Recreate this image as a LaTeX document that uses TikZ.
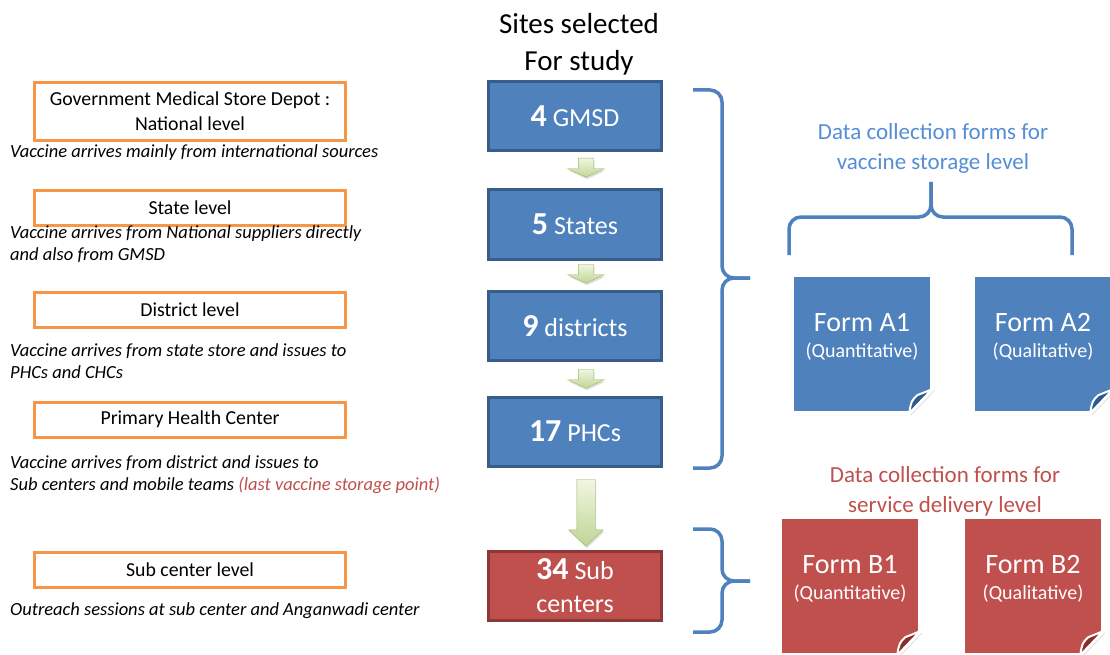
\documentclass[tikz,border=0pt]{standalone}
\usepackage{fontspec}
\setmainfont{Carlito}
\usetikzlibrary{shapes.arrows,shadows,backgrounds,positioning}

\definecolor{siteblue}{HTML}{4F81BD}
\definecolor{sitebluedark}{HTML}{385D8A}
\definecolor{sitered}{HTML}{C0504D}
\definecolor{sitereddark}{HTML}{8C3836}
\definecolor{levelorange}{HTML}{F79646}
\definecolor{flowline}{HTML}{9BBB59}
\definecolor{flowlight}{HTML}{F0F6E2}
\definecolor{flowdark}{HTML}{C0D595}
\definecolor{titleblue}{HTML}{558ED5}
\definecolor{foldblue}{HTML}{2C5A8E}
\definecolor{foldred}{HTML}{8A2E2B}

\tikzset{
  level/.style  = {draw=levelorange, line width=3pt, minimum width=311pt,
                   minimum height=35pt, inner sep=2pt, align=center,
                   font=\fontsize{19.8}{25}\selectfont},
  note/.style   = {anchor=north west, inner sep=0pt, align=left,
                   font=\itshape\fontsize{18.5}{22}\selectfont},
  site/.style   = {draw=sitebluedark, fill=siteblue, line width=3pt,
                   minimum width=173pt, minimum height=69pt, text=white,
                   align=center, font=\fontsize{26}{33}\selectfont},
  flow/.style   = {single arrow, shape border rotate=270, anchor=tail,
                   draw=flowline, top color=flowlight, bottom color=flowdark,
                   drop shadow={shadow xshift=1pt, shadow yshift=-2pt, opacity=.25}},
  form/.style   = {minimum width=140pt, minimum height=138pt, inner sep=0pt,
                   align=center, text=white, font=\fontsize{28}{26}\selectfont},
  group title/.style = {align=center, font=\fontsize{23}{30}\selectfont},
  brace line/.style  = {draw=siteblue, line width=3.5pt, rounded corners=12pt}
}

\begin{document}
\begin{tikzpicture}[x=1pt, y=-1pt]

  \path[use as bounding box] (0,0) rectangle (1110,655);

  % levels of the supply chain, left column
  \node[level, minimum height=58pt] (natl) at (190,111.5)
    {Government Medical Store Depot :\\National level};
  \node[level] (state) at (190,208) {State level};
  \node[level] (dist)  at (190,309.5) {District level};
  \node[level] (phc)   at (190,419.5) {Primary Health Center};
  \node[level] (sub)   at (190,570) {Sub center level};

  \node[note] (n1) at (10,144) {Vaccine arrives mainly from international sources};
  \node[note] (n2) at (10,225) {Vaccine arrives from National suppliers directly\\and also from GMSD};
  \node[note] (n3) at (10,343) {Vaccine arrives from state store and issues to\\PHCs and CHCs};
  \node[note] (n4) at (10,455) {Vaccine arrives from district and issues to\\Sub centers and mobile teams
    {\color{sitered}(last vaccine storage point)}};
  \node[note] (n5) at (10,602) {Outreach sessions at sub center and Anganwadi center};

  % sites selected, middle column
  \node[align=center, font=\fontsize{29}{37}\selectfont] (title) at (579,44)
    {Sites selected\\For study};

  \node[site] (gmsd) at (575,116.5) {{\bfseries\fontsize{32}{32}\selectfont 4} GMSD};
  \node[site] (states) at (575,224.5) {{\bfseries\fontsize{32}{32}\selectfont 5} States};
  \node[site] (dists) at (575,326) {{\bfseries\fontsize{32}{32}\selectfont 9} districts};
  \node[site] (phcs) at (575,431.5) {{\bfseries\fontsize{32}{32}\selectfont 17} PHCs};
  \node[site, fill=sitered, draw=sitereddark, minimum height=69pt] (subs) at (575,586)
    {{\bfseries\fontsize{32}{32}\selectfont 34} Sub\\centers};

  \foreach \a/\y in {a1/158, a2/264, a3/369}
    \node[flow, inner sep=7.5pt, minimum height=17pt, single arrow head extend=10.5pt,
          single arrow tip angle=130] (\a) at (586,\y) {};
  \node[flow, inner sep=9pt, minimum height=67pt, single arrow head extend=8pt,
        single arrow tip angle=93] (a4) at (586,479) {};

  % braces
  \draw[brace line] (693,90) -- (722,90) -- (722,278) -- (750,278);
  \draw[brace line] (750,278) -- (722,278) -- (722,468) -- (693,468);
  \draw[brace line] (693,529) -- (722,529) -- (722,581) -- (750,581);
  \draw[brace line] (750,581) -- (722,581) -- (722,632) -- (693,632);
  \draw[brace line] (789,255) -- (789,217) -- (931,217) -- (931,182);
  \draw[brace line] (931,182) -- (931,217) -- (1072,217) -- (1072,255);

  % data collection forms, right column
  \node[group title, text=titleblue] (vtitle) at (933,148)
    {Data collection forms for\\vaccine storage level};
  \node[group title, text=sitered] (stitle) at (945,491)
    {Data collection forms for\\service delivery level};

  \node[form] (fa1) at (862,344)
    {Form A1\\{\fontsize{20}{24}\selectfont (Quantitative)}\rule[-18pt]{0pt}{18pt}};
  \node[form] (fa2) at (1043,344)
    {Form A2\\{\fontsize{20}{24}\selectfont (Qualitative)}\rule[-18pt]{0pt}{18pt}};
  \node[form] (fb1) at (850,586)
    {Form B1\\{\fontsize{20}{24}\selectfont (Quantitative)}\rule[-18pt]{0pt}{18pt}};
  \node[form] (fb2) at (1033,586)
    {Form B2\\{\fontsize{20}{24}\selectfont (Qualitative)}\rule[-18pt]{0pt}{18pt}};

  \begin{scope}[on background layer]
    \fill[white] (0,0) rectangle (1110,655);
    \foreach \f/\c/\d in {fa1/siteblue/foldblue, fa2/siteblue/foldblue,
                          fb1/sitered/foldred, fb2/sitered/foldred} {
      \filldraw[fill=\c, draw=white, line width=4pt,
                drop shadow={shadow xshift=2pt, shadow yshift=-2pt, opacity=.3}]
        (\f.north west) -- (\f.north east) -- ([yshift=24pt]\f.south east)
        -- ([xshift=-23pt]\f.south east) -- (\f.south west) -- cycle;
      \filldraw[fill=\d, draw=white, line width=2pt]
        ([xshift=-23pt]\f.south east)
        .. controls ([xshift=-21pt,yshift=12pt]\f.south east) .. ([xshift=-15pt,yshift=18pt]\f.south east)
        .. controls ([xshift=-8pt,yshift=21pt]\f.south east) .. ([yshift=24pt]\f.south east) -- cycle;
    }
  \end{scope}

\end{tikzpicture}
\end{document}
